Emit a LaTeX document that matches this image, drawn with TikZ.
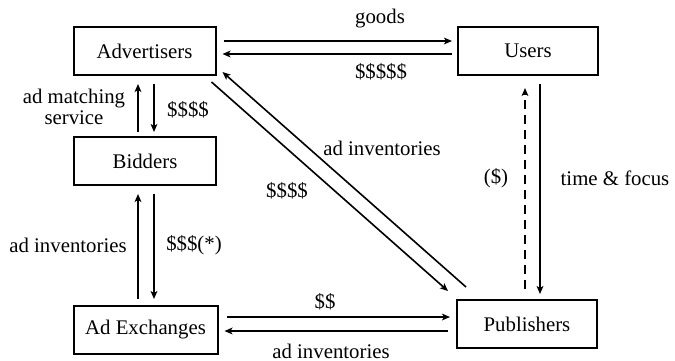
\documentclass[tikz,border=0pt]{standalone}
\usepackage{fontspec}
\setmainfont{Liberation Serif}
\newfontfamily\diagfont{Liberation Serif}
\usetikzlibrary{arrows.meta}
\tikzset{
  every node/.style={font=\diagfont\fontsize{10.4}{10.8}\selectfont},
  party/.style={draw, line width=1pt, minimum width=71pt, minimum height=24pt},
  flow/.style={line width=0.8pt, -{Stealth[length=4pt,width=3.4pt,inset=1pt]}},
}
\begin{document}
\begin{tikzpicture}[x=0.5pt,y=-0.5pt]
\useasboundingbox (0,0) rectangle (675,360);
% BOXES
\node[party] at (144.5,51) (advertisers) {Advertisers};
\node[party, minimum width=70pt] at (528,51) (users) {Users};
\node[party] at (145,161) (bidders) {Bidders};
\node[party, minimum width=72pt] at (145.5,330) (exchanges) {Ad Exchanges};
\node[party, minimum width=70pt] at (527,324) (publishers) {Publishers};
% TEXT
\node at (380,19) (goods) {goods};
\node at (381,72) (pay_users) {\$\$\$\$\$};
\node[align=center] at (74,107) (matching) {ad matching\\service};
\node at (188,110) (pay_bidders) {\$\$\$\$};
\node at (68,245) (inv_bidders) {ad inventories};
\node at (194,245) (pay_exchanges) {\$\$\$(*)};
\node at (287,191) (pay_publishers) {\$\$\$\$};
\node at (382,148) (inv_advertisers) {ad inventories};
\node at (496,178) (pay_maybe) {(\$)};
\node at (615,178) (attention) {time \& focus};
\node at (325,302) (pay_direct) {\$\$};
\node at (331,351) (inv_exchanges) {ad inventories};
% Advertisers <-> Users
\draw[flow] ([shift={(7,-10)}]advertisers.east) -- ([shift={(-5,-10)}]users.west);
\draw[flow] ([shift={(-5,3)}]users.west) -- ([shift={(6,3)}]advertisers.east);
% Advertisers <-> Bidders
\draw[flow] ([shift={(-7,-4)}]bidders.north) -- ([shift={(-6.5,8)}]advertisers.south);
\draw[flow] ([shift={(9.5,8)}]advertisers.south) -- ([shift={(9,-4)}]bidders.north);
% Bidders <-> Ad Exchanges
\draw[flow] ([shift={(-7.5,-6)}]exchanges.north) -- ([shift={(-7,8)}]bidders.south);
\draw[flow] ([shift={(9,8)}]bidders.south) -- ([shift={(8.5,-6)}]exchanges.north);
% Ad Exchanges <-> Publishers
\draw[flow] ([shift={(8,-13)}]exchanges.east) -- ([shift={(-6,-7)}]publishers.west);
\draw[flow] ([shift={(-8,7)}]publishers.west) -- ([shift={(6,1)}]exchanges.east);
% Users <-> Publishers
\draw[flow, dashed, dash pattern=on 4.5pt off 3pt] ([shift={(-2,-10)}]publishers.north) -- ([shift={(-3,12)}]users.south);
\draw[flow] ([shift={(12,8)}]users.south) -- ([shift={(13,-5)}]publishers.north);
% Advertisers <-> Publishers
\draw[flow] ([shift={(10,-12)}]publishers.north west) -- ([shift={(6,-4)}]advertisers.south east);
\draw[flow] ([shift={(-5,6)}]advertisers.south east) -- ([shift={(-8,-8)}]publishers.north west);
\end{tikzpicture}
\end{document}
